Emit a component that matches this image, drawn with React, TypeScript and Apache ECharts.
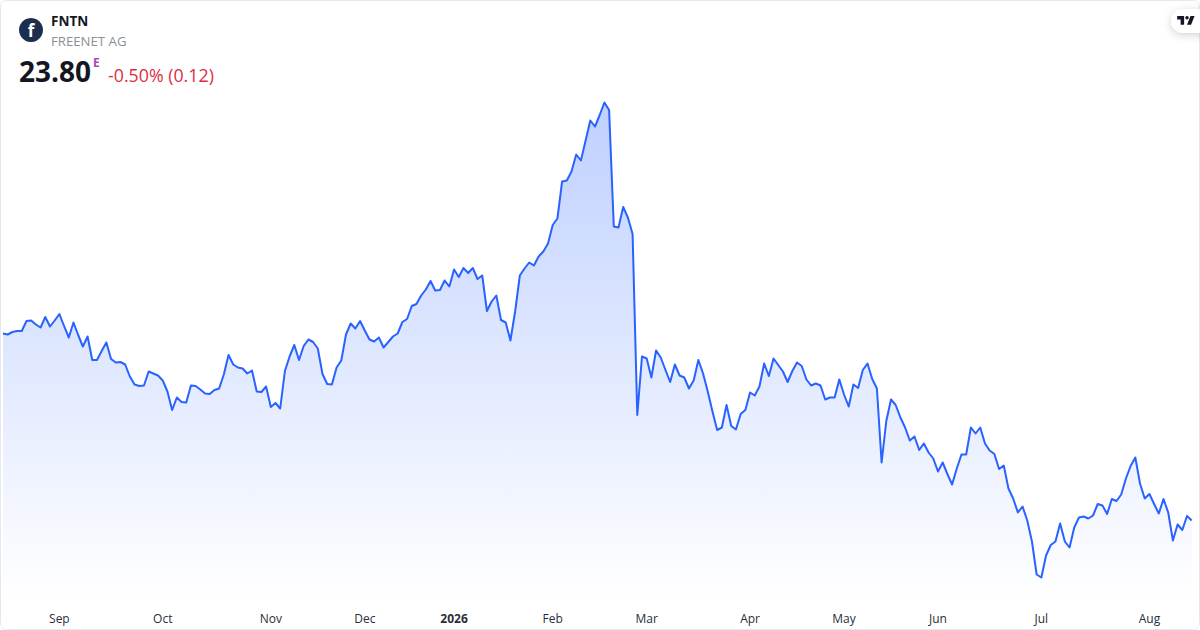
import React, { useEffect, useRef } from "react";
import * as echarts from "echarts";

const prices = [
  27.55,27.53,27.58,27.60,27.60,27.80,27.81,27.73,27.67,27.88,27.69,27.81,27.94,27.70,27.47,27.77,27.52,27.29,27.49,27.02,
  27.02,27.20,27.37,27.04,26.97,26.98,26.93,26.69,26.53,26.50,26.51,26.79,26.75,26.71,26.61,26.39,26.02,26.27,26.18,26.17,
  26.51,26.50,26.43,26.35,26.34,26.42,26.45,26.73,27.12,26.93,26.87,26.85,26.75,26.81,26.39,26.38,26.49,26.08,26.16,26.05,
  26.80,27.09,27.32,27.02,
  27.30,27.43,27.38,27.25,26.74,26.54,26.53,26.87,27.01,27.53,27.75,27.65,27.80,27.61,27.43,27.39,27.47,27.27,27.38,27.49,
  27.55,27.78,27.84,28.10,28.14,28.31,28.43,28.60,28.41,28.42,28.61,28.49,28.83,28.68,28.86,28.76,28.86,28.64,28.71,28.00,
  28.19,28.31,27.82,27.77,27.41,27.99,28.71,28.85,28.97,28.91,29.09,29.19,29.35,29.72,29.85,30.59,30.61,30.79,31.13,31.01,
  31.41,31.81,31.69,31.92,32.17,32.02,29.69,29.67,30.08,29.87,29.54,25.92,27.09,27.05,26.67,27.21,27.07,26.82,26.58,26.93,
  26.71,26.67,26.45,26.61,27.02,26.75,26.39,25.99,25.62,25.67,26.12,25.70,25.63,25.94,26.02,26.37,26.31,26.49,26.95,26.70,
  27.05,26.92,26.79,26.58,26.80,26.97,26.90,26.63,26.51,26.55,26.51,26.23,26.27,26.27,26.63,26.33,26.09,26.53,26.46,26.82,
  26.95,26.64,26.45,24.97,25.80,26.23,26.12,25.87,25.67,25.41,25.49,25.22,25.35,25.17,25.05,24.79,24.97,24.74,24.53,24.85,
  25.13,25.13,25.67,25.55,25.67,25.35,25.21,25.14,24.84,24.91,24.45,24.25,23.97,24.09,23.81,23.39,22.73,22.67,23.11,23.32,
  23.39,23.75,23.39,23.27,23.67,23.87,23.89,23.85,23.91,24.14,24.11,23.94,24.24,24.20,24.33,24.65,24.90,25.07,24.55,24.25,
  24.34,24.14,23.95,24.24,23.97,23.41,23.73,23.62,23.90,23.81,
];
const tickLabels = ["Sep", "Oct", "Nov", "Dec", "2026", "Feb", "Mar", "Apr", "May", "Jun", "Jul", "Aug"];
const tickIndexes = [12, 34, 57, 77, 96, 117, 137, 159, 179, 199, 221, 244];
const categories = prices.map((_, i) => {
  const k = tickIndexes.indexOf(i);
  return k >= 0 ? tickLabels[k] : "";
});

const FONT = '"Open Sans", sans-serif';

echarts.graphic.registerShape(
  "tvMark",
  echarts.graphic.extendPath(
    "M14 6H2v6h6v9h6V6Zm12 15h-7l6-15h7l-6 15Zm-7-9a3 3 0 1 0 0-6 3 3 0 0 0 0 6Z",
    {}
  )
);

export default function App() {
  const ref = useRef<HTMLDivElement>(null);
  useEffect(() => {
    const chart = echarts.init(ref.current!, undefined, { renderer: "svg", width: 1200, height: 630 });
    chart.setOption({
      animation: false,
      backgroundColor: "#ffffff",
      grid: { left: 2.3, right: 8.3, top: 90, bottom: 30 },
      xAxis: {
        type: "category",
        data: categories,
        boundaryGap: false,
        axisLine: { show: false },
        axisTick: { show: false },
        splitLine: { show: false },
        axisLabel: {
          interval: 0,
          margin: 12,
          fontFamily: FONT,
          fontSize: 12,
          color: "#2a2e39",
          hideOverlap: false,
          formatter: (v: string) => (v === "2026" ? "{b|2026}" : v),
          rich: { b: { fontFamily: FONT, fontSize: 12, fontWeight: "bold", color: "#2a2e39" } },
        },
      },
      yAxis: { type: "value", min: 22.22, max: 32.42, show: false, splitLine: { show: false } },
      series: [
        {
          type: "line",
          data: prices,
          symbol: "none",
          smooth: false,
          lineStyle: { color: "#2962ff", width: 2, join: "round" },
          areaStyle: {
            opacity: 1,
            color: new echarts.graphic.LinearGradient(0, 0, 0, 1, [
              { offset: 0, color: "rgba(41,98,255,0.3)" },
              { offset: 1, color: "rgba(41,98,255,0)" },
            ]),
          },
        },
      ],
      graphic: [
        { type: "rect", z: 10, silent: true, shape: { x: 0.5, y: 0.5, width: 1199, height: 629, r: 6 }, style: { fill: "none", stroke: "#e6e8ee", lineWidth: 1 } },
        { type: "circle", z: 20, shape: { cx: 31, cy: 30, r: 12 }, style: { fill: "#1b2e4f" } },
        { type: "text", z: 21, x: 31, y: 30, style: { text: "f", fill: "#ffffff", font: `bold 17px ${FONT}`, align: "center", verticalAlign: "middle" } },
        { type: "text", z: 20, x: 51, y: 21, style: { text: "FNTN", fill: "#131722", font: `bold 13.5px ${FONT}`, verticalAlign: "middle" } },
        { type: "text", z: 20, x: 51, y: 41, style: { text: "FREENET AG", fill: "#8c8f96", font: `13.2px ${FONT}`, verticalAlign: "middle" } },
        { type: "text", z: 20, x: 19, y: 71, style: { text: "23.80", fill: "#131722", font: `bold 28px ${FONT}`, verticalAlign: "middle" } },
        { type: "text", z: 20, x: 93, y: 62, style: { text: "E", fill: "#ab47bc", font: `bold 12px ${FONT}`, verticalAlign: "middle" } },
        { type: "text", z: 20, x: 108, y: 75, style: { text: "-0.50% (0.12)", fill: "#dc2f45", font: `17.8px ${FONT}`, verticalAlign: "middle" } },
        { type: "rect", z: 20, shape: { x: 1171, y: 9, width: 50, height: 24, r: 12 }, style: { fill: "#ffffff", shadowBlur: 8, shadowColor: "rgba(0,0,0,0.18)", shadowOffsetY: 2 } },
        { type: "tvMark", z: 21, x: 1176, y: 12.5, scaleX: 0.58, scaleY: 0.58, style: { fill: "#131722" } },
      ],
    });
    return () => chart.dispose();
  }, []);
  return <div ref={ref} style={{ position: "fixed", left: 0, top: 0, width: 1200, height: 630 }} />;
}
